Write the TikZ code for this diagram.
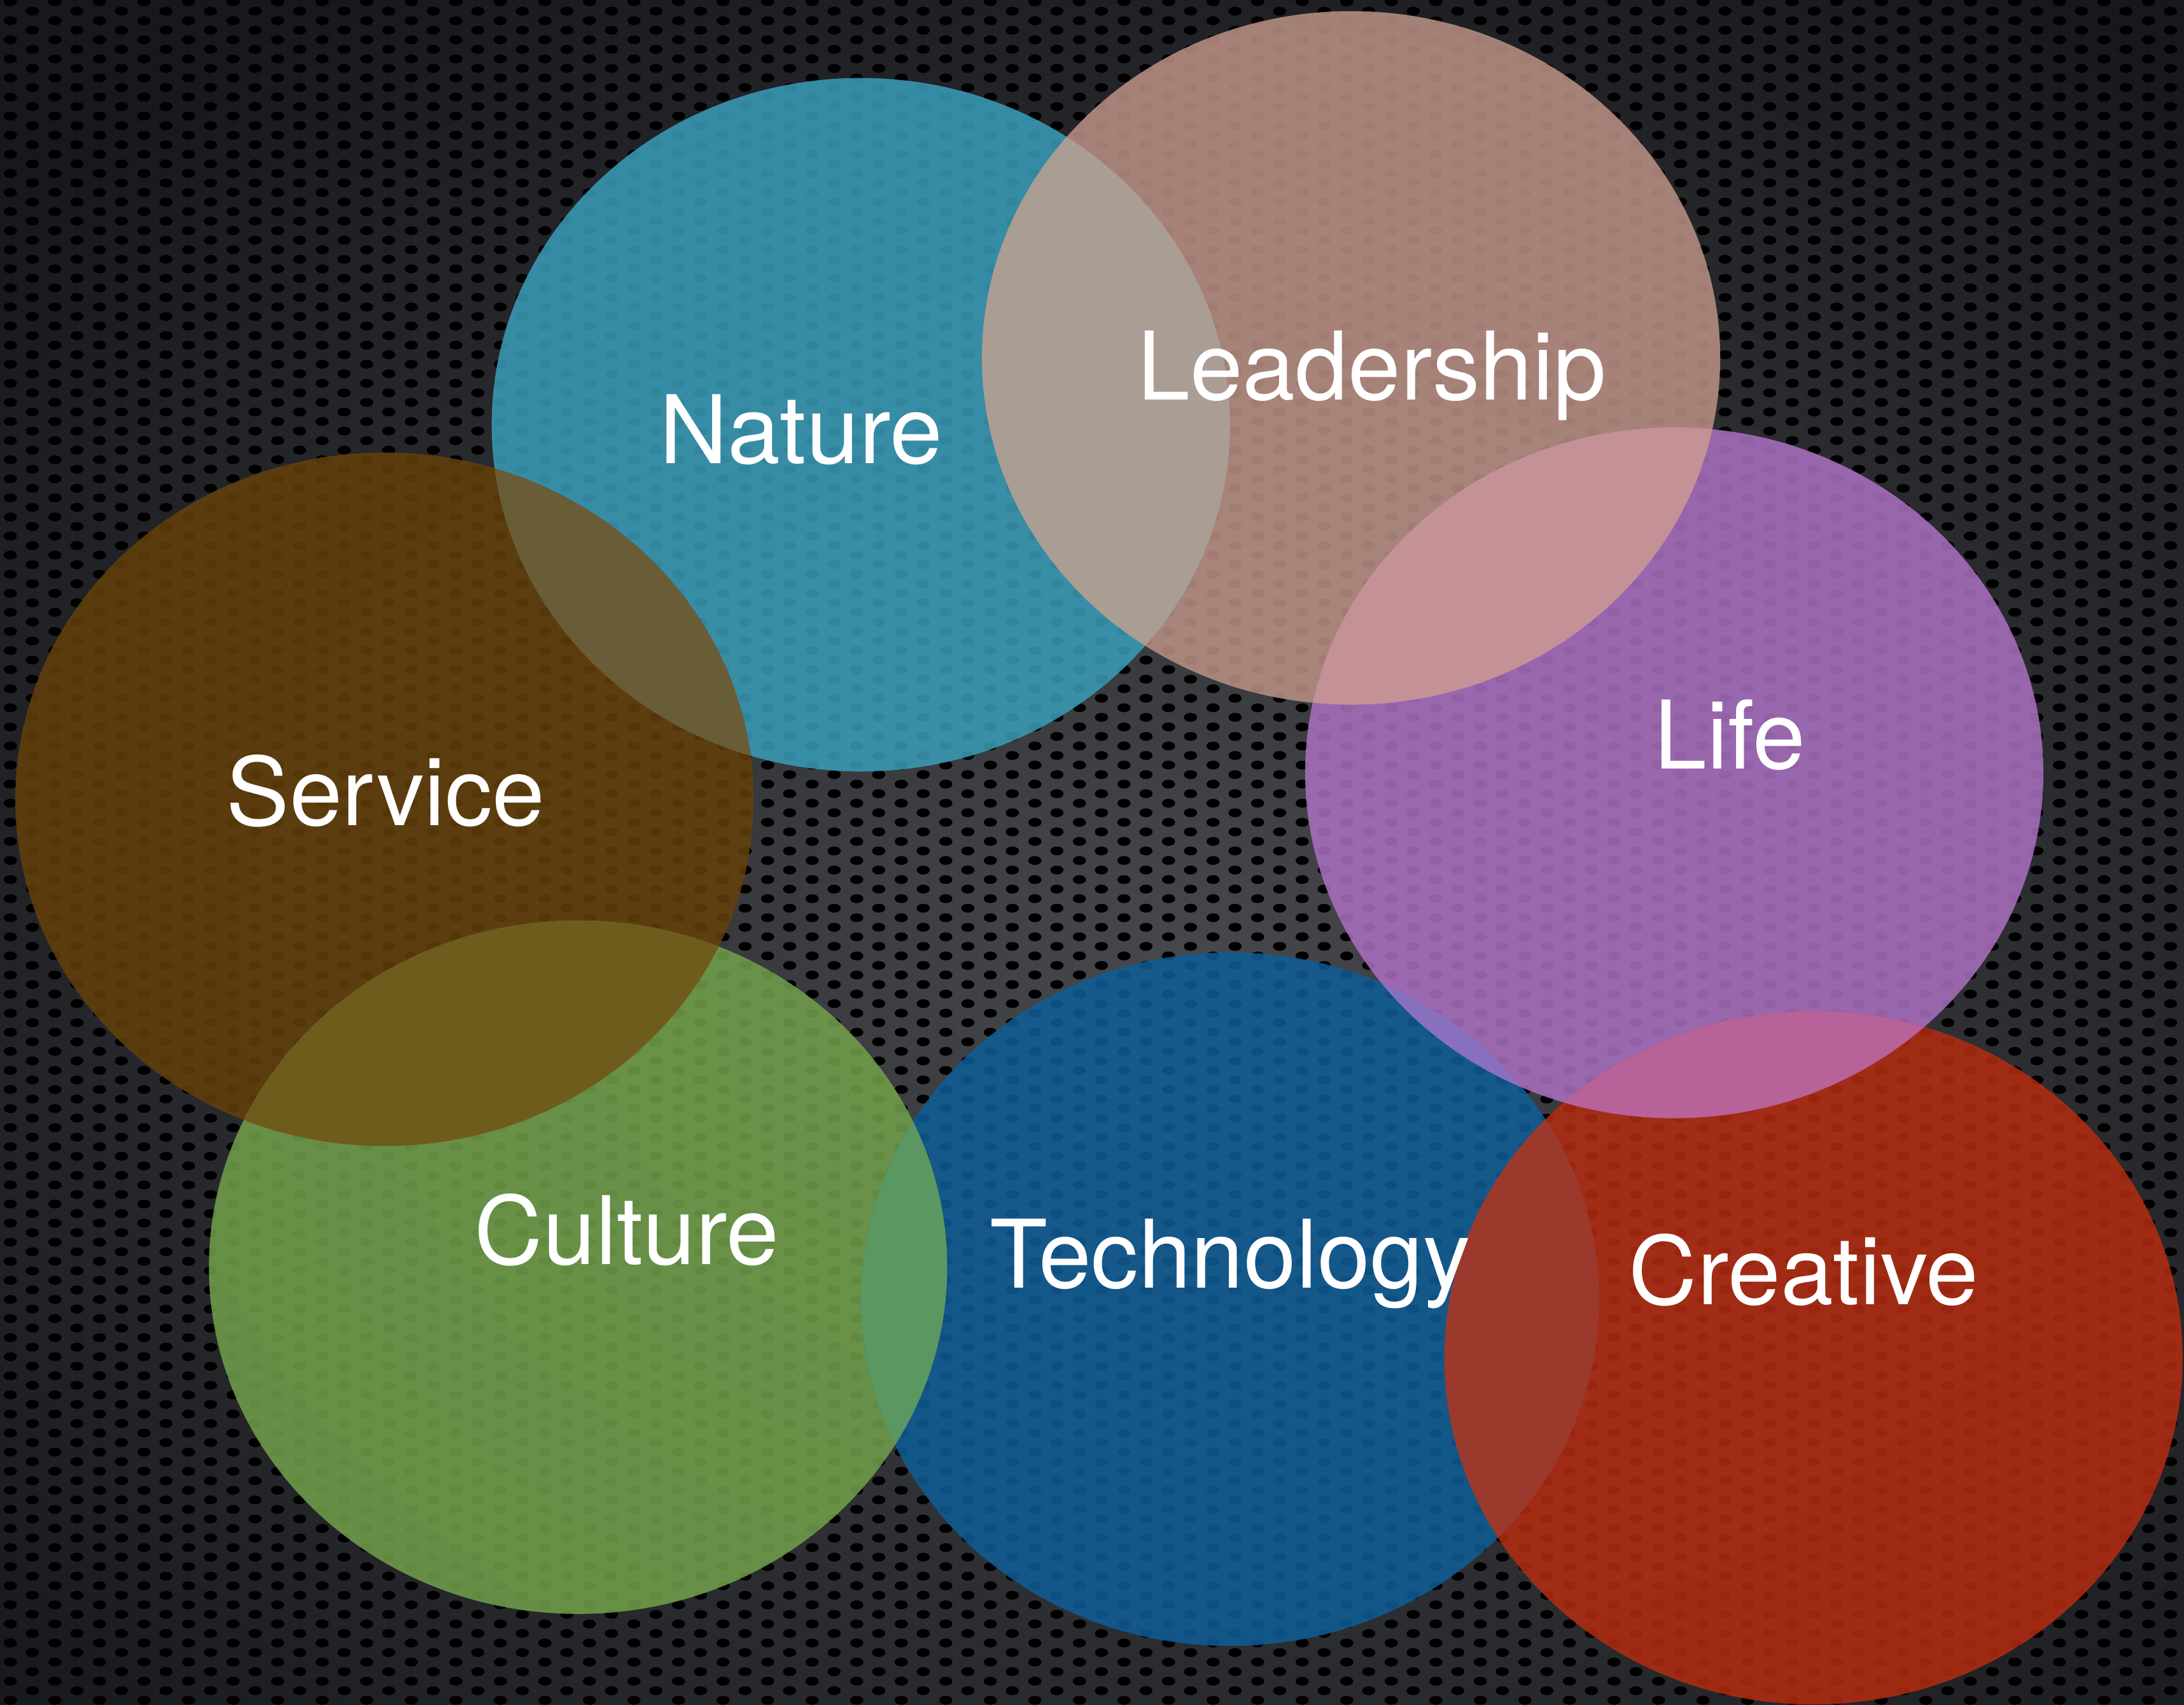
\documentclass[tikz,border=0pt]{standalone}
\usepackage{fontspec}
\setmainfont{TeX Gyre Heros}
\usetikzlibrary{patterns}
\pgfdeclarepatterninherentlycolored{mesh}{\pgfpoint{0pt}{0pt}}{\pgfpoint{32pt}{13.7pt}}{\pgfpoint{32pt}{13.7pt}}{%
  \pgfsetfillcolor{black}%
  \pgfpathellipse{\pgfpoint{8pt}{3.4pt}}{\pgfpoint{4.8pt}{0pt}}{\pgfpoint{0pt}{3.2pt}}%
  \pgfpathellipse{\pgfpoint{24pt}{10.25pt}}{\pgfpoint{4.8pt}{0pt}}{\pgfpoint{0pt}{3.2pt}}%
  \pgfusepath{fill}%
}
\definecolor{bgmid}{HTML}{46484B}
\definecolor{bgout}{HTML}{16181C}
\definecolor{cNature}{HTML}{3A9DB9}
\definecolor{cLead}{HTML}{BB9185}
\definecolor{cLife}{HTML}{AB70C1}
\definecolor{cServ}{HTML}{64400B}
\definecolor{cCult}{HTML}{72A04B}
\definecolor{cTech}{HTML}{0F5D96}
\definecolor{cCrea}{HTML}{B42C12}
\definecolor{oNL}{HTML}{AB9E95}
\definecolor{oNS}{HTML}{6A5F3A}
\definecolor{oLLi}{HTML}{C69396}
\definecolor{oSC}{HTML}{6E5A1C}
\definecolor{oCT}{HTML}{5F9A5E}
\definecolor{oLiT}{HTML}{8F72C2}
\definecolor{oLiC}{HTML}{B865A0}
\definecolor{oTC}{HTML}{9C3A2E}
\tikzset{
  blob/.style={fill=#1, fill opacity=0.86},
  lens/.style={fill=#1, fill opacity=0.95},
  label/.style={text=white, anchor=base, inner sep=0pt, font=\fontsize{68}{80}\selectfont},
}
\def\ellN{(618,305) ellipse [x radius=265, y radius=249]}
\def\ellL{(970,257) ellipse [x radius=265, y radius=249]}
\def\ellLi{(1202,555) ellipse [x radius=265, y radius=248]}
\def\ellS{(276,574) ellipse [x radius=265, y radius=249]}
\def\ellC{(415,910) ellipse [x radius=265, y radius=249]}
\def\ellT{(883,933) ellipse [x radius=265, y radius=249]}
\def\ellCr{(1302,975) ellipse [x radius=265, y radius=249]}
\begin{document}
\begin{tikzpicture}[x=1pt, y=-1pt]
\useasboundingbox (0,0) rectangle (1568,1224);
% background
\begin{scope}
\clip (0,0) rectangle (1568,1224);
\shade[inner color=bgmid, outer color=bgout] (-250,-150) rectangle (1950,1550);
\fill[pattern=mesh] (0,0) rectangle (1568,1224);
\end{scope}
% circles
\fill[blob=cNature] \ellN;
\fill[blob=cLead] \ellL;
\fill[blob=cLife] \ellLi;
\fill[blob=cServ] \ellS;
\fill[blob=cCult] \ellC;
\fill[blob=cTech] \ellT;
\fill[blob=cCrea] \ellCr;
% overlaps
\begin{scope}\clip \ellN; \fill[lens=oNL] \ellL; \end{scope}
\begin{scope}\clip \ellN; \fill[lens=oNS] \ellS; \end{scope}
\begin{scope}\clip \ellL; \fill[lens=oLLi] \ellLi; \end{scope}
\begin{scope}\clip \ellS; \fill[lens=oSC] \ellC; \end{scope}
\begin{scope}\clip \ellC; \fill[lens=oCT] \ellT; \end{scope}
\begin{scope}\clip \ellT; \fill[lens=oTC] \ellCr; \end{scope}
\begin{scope}\clip \ellLi; \fill[lens=oLiT] \ellT; \end{scope}
\begin{scope}\clip \ellLi; \fill[lens=oLiC] \ellCr; \end{scope}
% labels
\node[label] (nature) at (575,333) {Nature};
\node[label] (leadership) at (985,287) {Leadership};
\node[label] (life) at (1242,552) {Life};
\node[label] (service) at (277,593) {Service};
\node[label] (culture) at (450,908) {Culture};
\node[label] (technology) at (883,925) {Technology};
\node[label] (creative) at (1295,937) {Creative};
\end{tikzpicture}
\end{document}
